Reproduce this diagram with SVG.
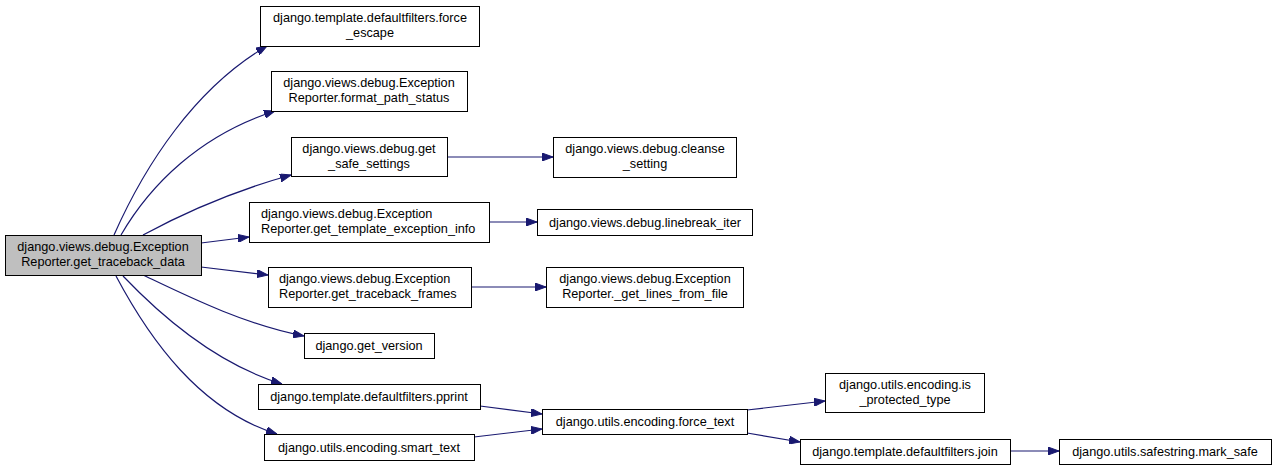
<svg xmlns="http://www.w3.org/2000/svg" width="1276" height="470" viewBox="0 0 1276 470">
<defs>
<style>
.n rect{fill:#ffffff;stroke:#000000;stroke-width:1}
.n.root rect{fill:#bfbfbf}
.n text{font-family:"Liberation Sans",Arial,sans-serif;font-size:12.7px;fill:#000000}
.c{text-anchor:middle}
.e path{fill:none;stroke:#191970;stroke-width:1.2;marker-end:url(#ah)}
</style>
<marker id="ah" viewBox="0 0 11 8" refX="11" refY="4" markerWidth="11" markerHeight="8" markerUnits="userSpaceOnUse" orient="auto">
<path d="M0,0 L11,4 L0,8 Z" fill="#191970" stroke="#191970"/>
</marker>
</defs>
<rect width="1276" height="470" fill="#ffffff"/>
<g id="edges" class="e">
<path d="M114,235 C145,165 195,88 267,46"/>
<path d="M121,235 C150,185 200,135 275,111"/>
<path d="M143,235 C180,215 230,192 291,175"/>
<path d="M201,243 L249,237"/>
<path d="M201,267 L268,275"/>
<path d="M143,275 C185,295 245,325 304,336"/>
<path d="M123,276 C165,320 220,365 282,384"/>
<path d="M116,276 C150,340 200,410 277,434"/>
<path d="M447,157 L553,157"/>
<path d="M489,222 L537,222"/>
<path d="M471,287 L546,287"/>
<path d="M480,406 L542,414"/>
<path d="M474,437 L542,429"/>
<path d="M747,410 L825,401"/>
<path d="M747,433 L800,442"/>
<path d="M1010,451 L1059,451"/>
</g>
<g id="n_root" class="n root"><rect x="5.5" y="235.5" width="196" height="40"/><text class="c" x="103" y="251">django.views.debug.Exception</text><text class="c" x="103" y="266">Reporter.get_traceback_data</text></g>
<g id="n_force_escape" class="n"><rect x="260.5" y="6.5" width="219" height="40"/><text class="c" x="370" y="22">django.template.defaultfilters.force</text><text class="c" x="370" y="37">_escape</text></g>
<g id="n_format_path_status" class="n"><rect x="271.5" y="71.5" width="196" height="40"/><text class="c" x="369" y="87">django.views.debug.Exception</text><text class="c" x="369" y="102">Reporter.format_path_status</text></g>
<g id="n_get_safe_settings" class="n"><rect x="291.5" y="137.5" width="156" height="39"/><text class="c" x="369" y="153">django.views.debug.get</text><text class="c" x="369" y="168">_safe_settings</text></g>
<g id="n_get_template_exception_info" class="n"><rect x="249.5" y="202.5" width="240" height="40"/><text x="261" y="218">django.views.debug.Exception</text><text x="261" y="233">Reporter.get_template_exception_info</text></g>
<g id="n_get_traceback_frames" class="n"><rect x="268.5" y="267.5" width="203" height="40"/><text x="279" y="283">django.views.debug.Exception</text><text x="279" y="298">Reporter.get_traceback_frames</text></g>
<g id="n_get_version" class="n"><rect x="304.5" y="333.5" width="130" height="25"/><text class="c" x="369" y="350">django.get_version</text></g>
<g id="n_pprint" class="n"><rect x="258.5" y="384.5" width="222" height="25"/><text class="c" x="369" y="401">django.template.defaultfilters.pprint</text></g>
<g id="n_smart_text" class="n"><rect x="264.5" y="434.5" width="210" height="26"/><text class="c" x="369" y="452">django.utils.encoding.smart_text</text></g>
<g id="n_cleanse_setting" class="n"><rect x="553.5" y="137.5" width="183" height="40"/><text class="c" x="645" y="153">django.views.debug.cleanse</text><text class="c" x="645" y="168">_setting</text></g>
<g id="n_linebreak_iter" class="n"><rect x="537.5" y="209.5" width="215" height="26"/><text class="c" x="645" y="227">django.views.debug.linebreak_iter</text></g>
<g id="n_get_lines_from_file" class="n"><rect x="546.5" y="267.5" width="197" height="40"/><text class="c" x="645" y="283">django.views.debug.Exception</text><text class="c" x="645" y="298">Reporter._get_lines_from_file</text></g>
<g id="n_force_text" class="n"><rect x="542.5" y="409.5" width="205" height="25"/><text class="c" x="645" y="426">django.utils.encoding.force_text</text></g>
<g id="n_is_protected_type" class="n"><rect x="825.5" y="373.5" width="159" height="39"/><text class="c" x="905" y="389">django.utils.encoding.is</text><text class="c" x="905" y="404">_protected_type</text></g>
<g id="n_join" class="n"><rect x="800.5" y="439.5" width="210" height="25"/><text class="c" x="905" y="456">django.template.defaultfilters.join</text></g>
<g id="n_mark_safe" class="n"><rect x="1059.5" y="439.5" width="212" height="25"/><text class="c" x="1165" y="456">django.utils.safestring.mark_safe</text></g>
</svg>
